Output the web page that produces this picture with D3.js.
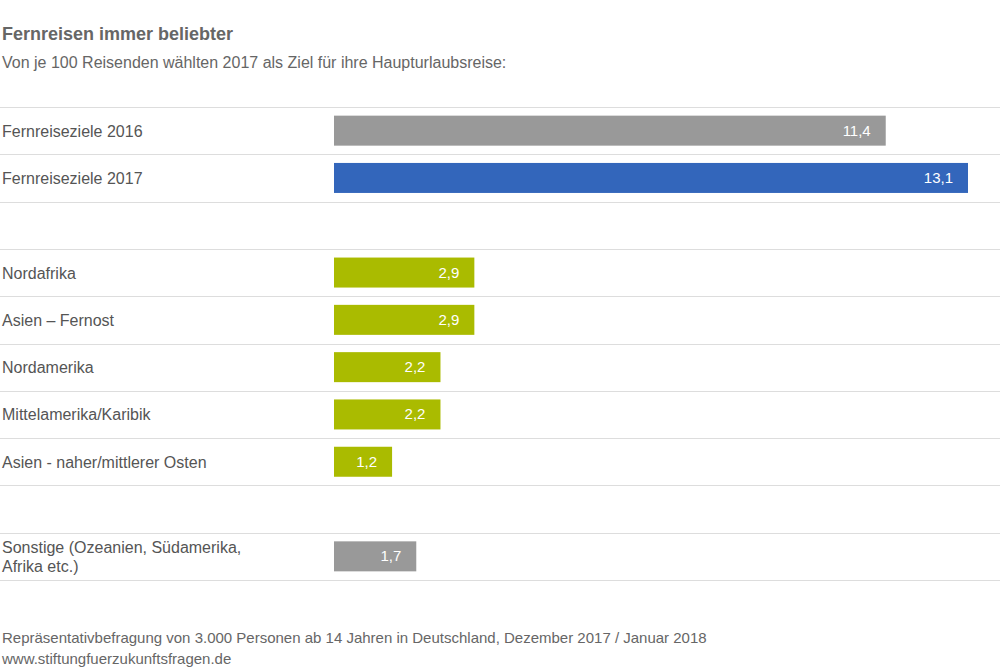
<!DOCTYPE html>
<html lang="de">
<head>
<meta charset="utf-8"/>
<script src="https://d3js.org/d3.v7.min.js"></script>
<style>
  body { margin: 0; background: #fff; }
  text { font-family: "Liberation Sans", Arial, sans-serif; }
</style>
</head>
<body>
<div id="chart"></div>
<script>
    // rows; empty label = spacer row
    var labels = ["Fernreiseziele 2016", "Fernreiseziele 2017", "", "Nordafrika", "Asien \u2013 Fernost",
        "Nordamerika", "Mittelamerika/Karibik", "Asien - naher/mittlerer Osten", "",
        "Sonstige (Ozeanien, Südamerika,|Afrika etc.)"];
    var values = [11.4, 13.1, null, 2.9, 2.9, 2.2, 2.2, 1.2, null, 1.7];
    var colors = ["#999999", "#3366bb", null, "#aabb00", "#aabb00", "#aabb00", "#aabb00", "#aabb00", null, "#999999"];

    var width = 1000, height = 672;
    var svg = d3.select("#chart").append("svg")
        .attr("width", width).attr("height", height);

    svg.append("text").attr("x", 2).attr("y", 40)
        .attr("font-size", 18).attr("font-weight", "bold").attr("fill", "#666")
        .text("Fernreisen immer beliebter");
    svg.append("text").attr("x", 2).attr("y", 68)
        .attr("font-size", 16).attr("fill", "#666")
        .text("Von je 100 Reisenden wählten 2017 als Ziel für ihre Haupturlaubsreise:");

    var y = d3.scaleBand().domain(d3.range(labels.length)).range([107, 580]).padding(0);
    var x = d3.scaleLinear().domain([0, 13.1]).range([334, 968]);

    // separator lines
    svg.append("g").selectAll("line")
        .data(d3.range(labels.length + 1))
        .enter().append("line")
        .attr("x1", 0).attr("x2", width)
        .attr("y1", function (i) { return Math.round(107 + i * y.bandwidth()) + 0.5; })
        .attr("y2", function (i) { return Math.round(107 + i * y.bandwidth()) + 0.5; })
        .attr("stroke", "#dddddd").attr("stroke-width", 1);

    var rows = svg.append("g").selectAll("g")
        .data(d3.range(labels.length).filter(function (i) { return values[i] !== null; }))
        .enter().append("g");

    rows.append("rect")
        .attr("x", x(0))
        .attr("y", function (i) { return y(i) + y.bandwidth() / 2 - 15; })
        .attr("width", function (i) { return x(values[i]) - x(0); })
        .attr("height", 30)
        .attr("fill", function (i) { return colors[i]; });

    rows.append("text")
        .attr("x", function (i) { return x(values[i]) - 15; })
        .attr("y", function (i) { return y(i) + y.bandwidth() / 2 + 5; })
        .attr("text-anchor", "end").attr("font-size", 15).attr("fill", "#fff")
        .text(function (i) { return String(values[i]).replace(".", ","); });

    rows.append("text")
        .attr("x", 2)
        .attr("font-size", 16).attr("fill", "#555")
        .each(function (i) {
            var parts = labels[i].split("|");
            var t = d3.select(this);
            var y0 = y(i) + y.bandwidth() / 2 + 6 - (parts.length - 1) * 9;
            parts.forEach(function (p, k) {
                t.append("tspan").attr("x", 2).attr("y", y0 + k * 19).text(p);
            });
        });

    svg.append("text").attr("x", 2).attr("y", 643)
        .attr("font-size", 15).attr("fill", "#666")
        .text("Repräsentativbefragung von 3.000 Personen ab 14 Jahren in Deutschland, Dezember 2017 / Januar 2018");
    svg.append("text").attr("x", 2).attr("y", 664)
        .attr("font-size", 15).attr("fill", "#666")
        .text("www.stiftungfuerzukunftsfragen.de");
</script>
</body>
</html>
